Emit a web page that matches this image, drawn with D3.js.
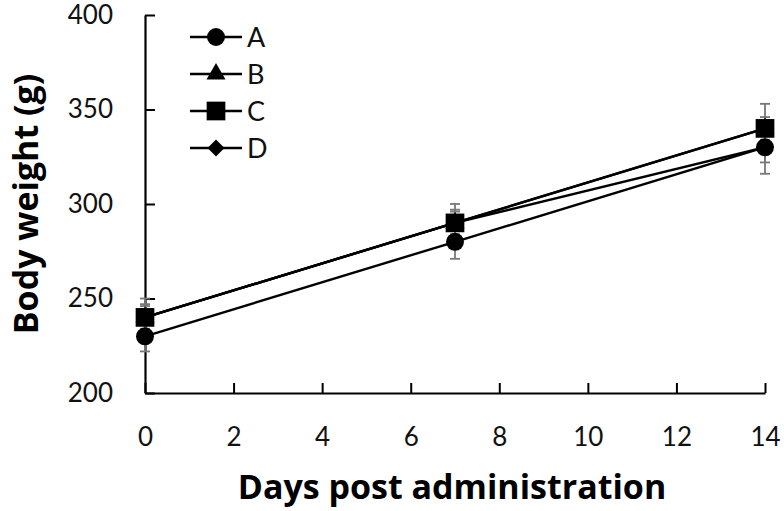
<!DOCTYPE html>
<html><head><meta charset="utf-8">
<script src="https://cdn.jsdelivr.net/npm/d3@7"></script>
<style>body{margin:0;background:#fff}svg{display:block}</style>
</head><body>
<svg id="c" width="784" height="511"></svg>
<script>
const days = [0, 7, 14];
const seriesNames = ["A", "B", "C", "D"];
const valuesA = [230, 280, 330];
const valuesB = [240, 290, 340];
const valuesC = [240, 290, 340];
const valuesD = [240, 290, 330];
const errA = [8, 9, 8];
const errB = [7, 7, 6];
const errC = [10, 10, 13];
const errD = [6, 6, 14];
const xTicks = [0, 2, 4, 6, 8, 10, 12, 14];
const yTicks = [200, 250, 300, 350, 400];

const series = [
  {name: seriesNames[0], vals: valuesA, err: errA, sym: d3.symbolCircle, size: 254, rot: 0},
  {name: seriesNames[1], vals: valuesB, err: errB, sym: d3.symbolTriangle, size: 156, rot: 0},
  {name: seriesNames[2], vals: valuesC, err: errC, sym: d3.symbolSquare, size: 350, rot: 0},
  {name: seriesNames[3], vals: valuesD, err: errD, sym: d3.symbolSquare, size: 145, rot: 45}
];

const svg = d3.select("#c");
const font = "Lato, 'Open Sans', sans-serif";
const titleFont = "'Open Sans', Lato, sans-serif";
const x = d3.scaleLinear().domain([0, 14]).range([145, 765]);
const y = d3.scaleLinear().domain([200, 400]).range([393, 15]);

// axes
const xAxis = svg.append("g").attr("transform", "translate(0,393)")
  .call(d3.axisBottom(x).tickValues(xTicks).tickSizeInner(-10).tickSizeOuter(0).tickPadding(35));
const yAxis = svg.append("g").attr("transform", "translate(145,0)")
  .call(d3.axisLeft(y).tickValues(yTicks).tickSizeInner(-10).tickSizeOuter(0).tickPadding(32));
[xAxis, yAxis].forEach(a => {
  a.select(".domain").attr("stroke", "#000").attr("stroke-width", 2.2);
  a.selectAll(".tick line").attr("stroke", "#000").attr("stroke-width", 2);
  a.selectAll(".tick text").attr("font-family", font).attr("font-size", 26).attr("fill", "#111");
});

// error bars
series.forEach(s => {
  const g = svg.append("g").attr("stroke", "#777").attr("stroke-width", 1.8);
  days.forEach((d, i) => {
    const cx = x(d), lo = y(s.vals[i] - s.err[i]), hi = y(s.vals[i] + s.err[i]);
    g.append("line").attr("x1", cx).attr("x2", cx).attr("y1", lo).attr("y2", hi);
    g.append("line").attr("x1", cx - 5).attr("x2", cx + 5).attr("y1", lo).attr("y2", lo);
    g.append("line").attr("x1", cx - 5).attr("x2", cx + 5).attr("y1", hi).attr("y2", hi);
  });
});

// lines
const line = d3.line().x((d, i) => x(days[i])).y(d => y(d));
series.forEach(s => {
  svg.append("path").attr("d", line(s.vals)).attr("fill", "none")
    .attr("stroke", "#000").attr("stroke-width", 2.4);
});
// markers
series.forEach(s => {
  svg.append("g").selectAll("path").data(s.vals).join("path")
    .attr("transform", (d, i) => `translate(${x(days[i])},${y(d)}) rotate(${s.rot})`)
    .attr("d", d3.symbol().type(s.sym).size(s.size)).attr("fill", "#000");
});

// legend
series.forEach((s, i) => {
  const ly = 37 + i * 37;
  svg.append("line").attr("x1", 190).attr("x2", 242).attr("y1", ly).attr("y2", ly)
    .attr("stroke", "#000").attr("stroke-width", 2.4);
  svg.append("path").attr("transform", `translate(216,${ly}) rotate(${s.rot})`)
    .attr("d", d3.symbol().type(s.sym).size(s.size)).attr("fill", "#000");
  svg.append("text").attr("x", 247).attr("y", ly + 10).text(s.name)
    .attr("font-family", font).attr("font-size", 27).attr("fill", "#111");
});

// titles
svg.append("text").attr("x", 452).attr("y", 499).attr("text-anchor", "middle")
  .attr("font-family", titleFont).attr("font-weight", "bold").attr("font-size", 34)
  .text("Days post administration");
svg.append("text").attr("transform", "translate(38,204) rotate(-90)").attr("text-anchor", "middle")
  .attr("font-family", titleFont).attr("font-weight", "bold").attr("font-size", 34)
  .text("Body weight (g)");
</script>
</body></html>
